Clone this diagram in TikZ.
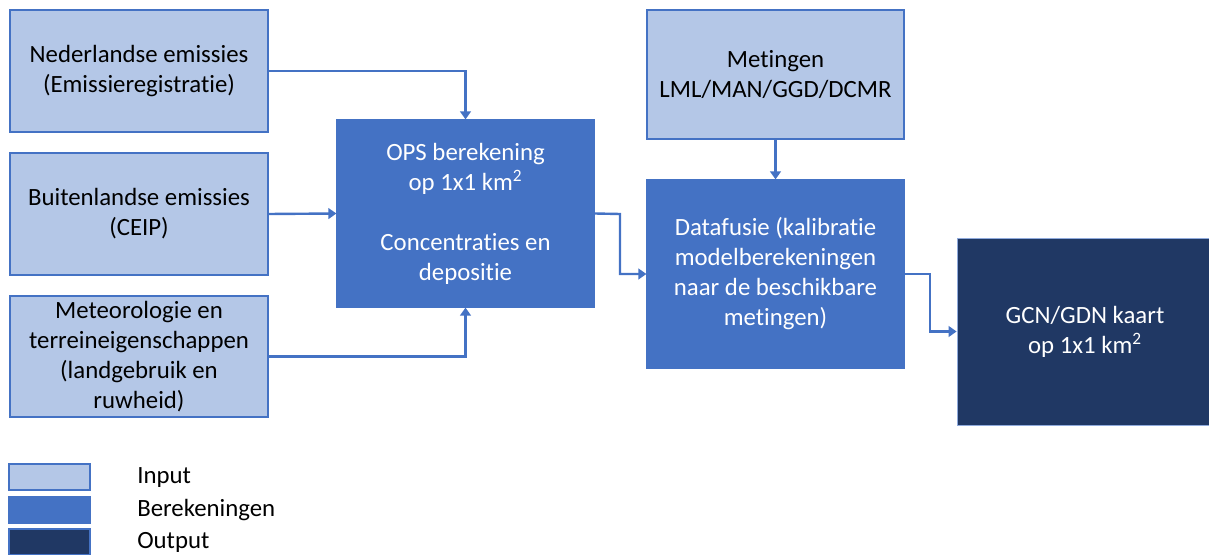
\documentclass[tikz,border=0pt]{standalone}
\usepackage{fontspec}
\setmainfont[Ligatures={NoCommon,NoRare}]{Carlito}
\usetikzlibrary{arrows.meta}
\definecolor{inp}{HTML}{B4C7E7}
\definecolor{calc}{HTML}{4472C4}
\definecolor{outp}{HTML}{203864}
\definecolor{edge}{HTML}{4472C4}
\definecolor{outedge}{HTML}{8FAADC}
\tikzset{
  box/.style={draw=edge, line width=0.9pt, align=center, inner sep=0pt,
    font=\fontsize{18.6}{22.5}\selectfont},
  inbox/.style={box, fill=inp, text=black},
  calcbox/.style={box, fill=calc, text=white},
  outbox/.style={box, fill=outp, draw=outedge, line width=0.6pt, text=white},
  conn/.style={draw=calc, line width=1.8pt, -{Triangle[width=8pt,length=6pt]}},
  legbox/.style={draw=edge, line width=0.8pt, minimum width=81*0.75pt, minimum height=26*0.75pt, inner sep=0pt},
  legtext/.style={anchor=west, font=\fontsize{18.6}{20}\selectfont, inner sep=0pt}
}
\begin{document}
\begin{tikzpicture}[x=0.75pt,y=-0.75pt]
\useasboundingbox (0,0) rectangle (1209,555);
\node[inbox, minimum width=258*0.75pt, minimum height=122*0.75pt] (ned) at (139,71)
  {Nederlandse emissies\\(Emissieregistratie)};
\node[inbox, minimum width=258*0.75pt, minimum height=122*0.75pt] (bui) at (139,214)
  {Buitenlandse emissies\\(CEIP)};
\node[inbox, minimum width=258*0.75pt, minimum height=121*0.75pt] (met) at (139,356.5)
  {Meteorologie en\\terreineigenschappen\\(landgebruik en\\ruwheid)};
\node[calcbox, minimum width=257*0.75pt, minimum height=187*0.75pt] (ops) at (465.5,213.5)
  {OPS berekening\\op 1x1 km\textsuperscript{2}\\[22.5pt]Concentraties en\\depositie};
\node[inbox, minimum width=257*0.75pt, minimum height=129*0.75pt] (mtg) at (775.5,74.5)
  {Metingen\\LML/MAN/GGD/DCMR};
\node[calcbox, minimum width=257*0.75pt, minimum height=188*0.75pt] (dat) at (775.5,274)
  {Datafusie (kalibratie\\modelberekeningen\\naar de beschikbare\\metingen)};
\node[outbox, minimum width=256*0.75pt, minimum height=187*0.75pt] (gcn) at (1085,331.5)
  {GCN/GDN kaart\\op 1x1 km\textsuperscript{2}};

\draw[conn] (ned.east) -| (ops.north);
\draw[conn] (bui.east) -- (ops.west);
\draw[conn] (met.east) -| (ops.south);
\coordinate (j1) at (620,214);
\draw[conn] (ops.east) -- (j1) |- (dat.west);
\draw[conn] (mtg.south) -- (dat.north);
\coordinate (j2) at (930,274);
\draw[conn] (dat.east) -- (j2) |- (gcn.west);

\node[legbox, fill=inp] (l1) at (49.5,477) {};
\node[legbox, fill=calc] (l2) at (49.5,510) {};
\node[legbox, fill=outp] (l3) at (49.5,542) {};
\node[legtext] (t1) at (137,478) {Input};
\node[legtext] (t2) at (137,510) {Berekeningen};
\node[legtext] (t3) at (137,542) {Output};
\end{tikzpicture}
\end{document}
